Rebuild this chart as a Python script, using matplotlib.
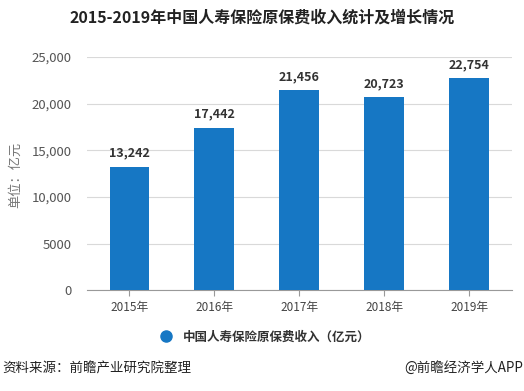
import matplotlib
matplotlib.use("Agg")
import matplotlib.pyplot as plt

plt.rcParams['font.family'] = ['Noto Sans CJK SC', 'DejaVu Sans']

years = ["2015年", "2016年", "2017年", "2018年", "2019年"]
values = [13242, 17442, 21456, 20723, 22754]
yticks = [0, 5000, 10000, 15000, 20000, 25000]
ytick_labels = ["0", "5000", "10,000", "15,000", "20,000", "25,000"]

bar_color = "#1677c4"

fig = plt.figure(figsize=(5.24, 3.91), dpi=100)
ax = fig.add_axes([0.166, 0.258, 0.811, 0.596])

x = list(range(len(years)))
ax.bar(x, values, width=0.47, color=bar_color, zorder=3, label="中国人寿保险原保费收入（亿元）")
for xi, v in zip(x, values):
    ax.annotate(f"{v:,}", (xi, v), xytext=(0, 5), textcoords="offset points",
                ha="center", va="bottom", fontsize=9, fontweight="bold", color="#333333")

ax.set_xlim(-0.5, 4.5)
ax.set_ylim(0, 25000)
ax.set_yticks(yticks)
ax.set_yticklabels(ytick_labels)
ax.set_xticks(x)
ax.set_xticklabels(years)
ax.grid(axis="y", color="#d9d9d9", linewidth=0.8, zorder=0)
for s in ["top", "right", "left"]:
    ax.spines[s].set_visible(False)
ax.spines["bottom"].set_color("#999999")
ax.tick_params(axis="y", length=0, labelsize=9.5, labelcolor="#555555", pad=11)
ax.tick_params(axis="x", length=4, color="#999999", labelsize=8.5, labelcolor="#444444")

fig.text(0.029, 0.552, "单位：亿元", rotation=90, ha="center", va="center", fontsize=9.5, color="#777777")
fig.text(0.5, 0.955, "2015-2019年中国人寿保险原保费收入统计及增长情况", ha="center", va="center",
         fontsize=11.5, fontweight="bold", color="#222222")

leg = fig.legend(handles=[plt.Line2D([], [], marker="o", linestyle="", markersize=8,
                                      color=bar_color)],
                 labels=["中国人寿保险原保费收入（亿元）"], loc="center",
                 bbox_to_anchor=(0.5, 0.138), frameon=False, fontsize=9, handletextpad=0.3)
for t in leg.get_texts():
    t.set_fontweight("bold")
    t.set_color("#333333")

fig.text(0.004, 0.058, "资料来源：前瞻产业研究院整理", ha="left", va="center", fontsize=9.7, color="#222222")
fig.text(0.998, 0.058, "@前瞻经济学人APP", ha="right", va="center", fontsize=9.7, color="#222222")

fig.savefig("out.png", dpi=100)
